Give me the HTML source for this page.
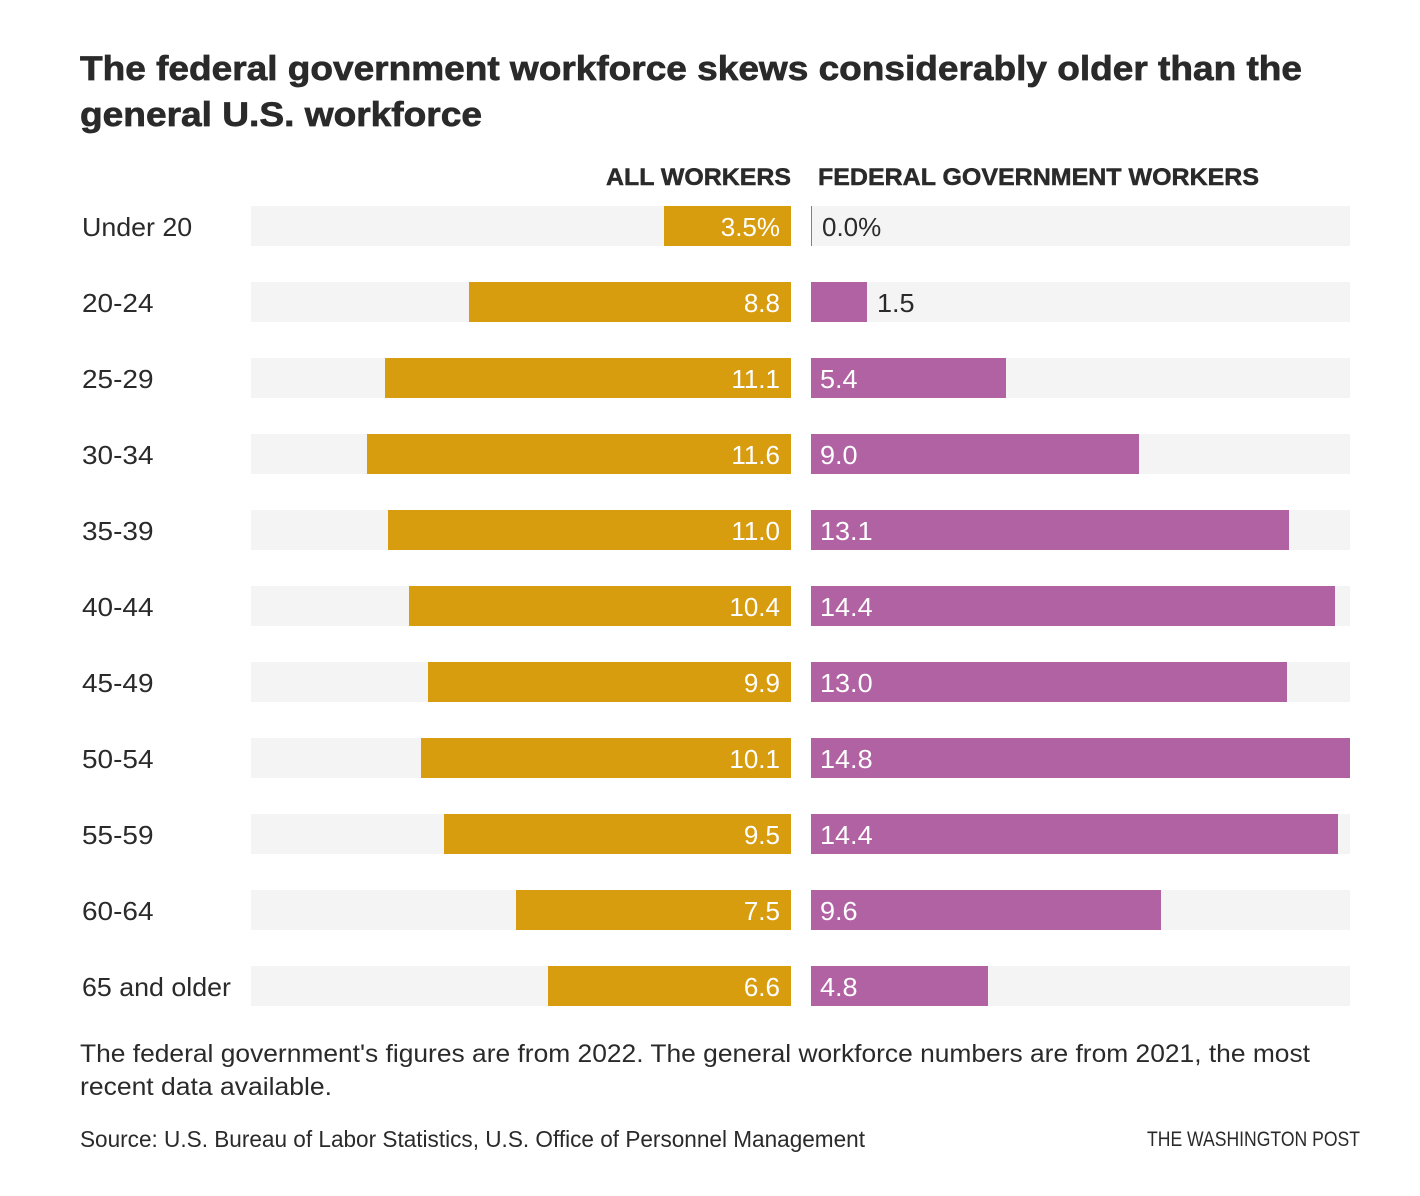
<!DOCTYPE html>
<html lang="en">
<head>
<meta charset="utf-8">
<title>The federal government workforce skews considerably older than the general U.S. workforce</title>
<style>
html,body{margin:0;padding:0;background:#fff;}
body{width:1420px;height:1196px;overflow:hidden;}
svg{display:block;font-family:"Liberation Sans",Arial,sans-serif;fill:#2a2a2a;}
.title{font-size:34.5px;font-weight:700;stroke:#2a2a2a;stroke-width:.7px;}
.head{font-size:24.5px;font-weight:700;stroke:#2a2a2a;stroke-width:.5px;}
.cat,.val{font-size:26px;}
.note{font-size:25px;}
.src{font-size:23px;}
.credit{font-size:21px;}
</style>
</head>
<body>
<svg id="chart" width="1420" height="1196" viewBox="0 0 1420 1196" xmlns="http://www.w3.org/2000/svg">
  <rect x="0" y="0" width="1420" height="1196" fill="#fff"/>
  <g>
    <text class="title" x="80" y="80" textLength="1222" lengthAdjust="spacingAndGlyphs">The federal government workforce skews considerably older than the</text>
    <text class="title" x="80" y="126" textLength="402" lengthAdjust="spacingAndGlyphs">general U.S. workforce</text>
  </g>
  <text class="head" x="606" y="185" textLength="185" lengthAdjust="spacingAndGlyphs">ALL WORKERS</text>
  <text class="head" x="818" y="185" textLength="441" lengthAdjust="spacingAndGlyphs">FEDERAL GOVERNMENT WORKERS</text>
  <g id="rows"></g>
  <g>
    <text class="note" x="80" y="1062" textLength="1230" lengthAdjust="spacingAndGlyphs">The federal government's figures are from 2022. The general workforce numbers are from 2021, the most</text>
    <text class="note" x="80" y="1095" textLength="252" lengthAdjust="spacingAndGlyphs">recent data available.</text>
  </g>
  <text class="src" x="80" y="1147" textLength="785" lengthAdjust="spacingAndGlyphs">Source: U.S. Bureau of Labor Statistics, U.S. Office of Personnel Management</text>
  <text class="credit" x="1147" y="1146" textLength="213" lengthAdjust="spacingAndGlyphs">THE WASHINGTON POST</text>
</svg>
<script>
const categories = ["Under 20","20-24","25-29","30-34","35-39","40-44","45-49","50-54","55-59","60-64","65 and older"];
const allWorkers = [3.49,8.84,11.15,11.64,11.07,10.49,9.97,10.16,9.53,7.55,6.67];
const federalWorkers = [0,1.54,5.35,9.01,13.12,14.39,13.07,14.8,14.47,9.61,4.86];
const allWorkerLabels = ["3.5%","8.8","11.1","11.6","11.0","10.4","9.9","10.1","9.5","7.5","6.6"];
const federalLabels = ["0.0%","1.5","5.4","9.0","13.1","14.4","13.0","14.8","14.4","9.6","4.8"];
const axisMax = 14.8;

const NS = "http://www.w3.org/2000/svg";
const rowsGroup = document.getElementById("rows");
const leftBase = 791, rightBase = 811, trackWidth = 539;
const firstRowY = 206, rowStep = 76, barHeight = 40;
const GOLD = "#d89c0f", PURPLE = "#b062a3", TRACK = "#f4f4f4", INK = "#2a2a2a";

function xScale(v) { return Math.round(v / axisMax * trackWidth); }
function yScale(i) { return firstRowY + i * rowStep; }

function makeRect(x, y, w, h, fill) {
  const r = document.createElementNS(NS, "rect");
  r.setAttribute("x", x);
  r.setAttribute("y", y);
  r.setAttribute("width", w);
  r.setAttribute("height", h);
  r.setAttribute("fill", fill);
  return r;
}
function makeText(cls, x, y, str, anchor, fill) {
  const t = document.createElementNS(NS, "text");
  t.setAttribute("class", cls);
  t.setAttribute("x", x);
  t.setAttribute("y", y);
  t.setAttribute("text-anchor", anchor);
  t.setAttribute("fill", fill);
  t.textContent = str;
  return t;
}
function stretch(t, k) {
  t.setAttribute("textLength", (t.getComputedTextLength() * k).toFixed(1));
  t.setAttribute("lengthAdjust", "spacingAndGlyphs");
}

categories.forEach(function (cat, i) {
  const y = yScale(i);
  const baseline = y + 30;

  const row = document.createElementNS(NS, "g");
  
  
  rowsGroup.appendChild(row);

  const label = makeText("cat", 82, baseline, cat, "start", INK);
  
  
  row.appendChild(label);
  stretch(label, /^[0-9-]+$/.test(cat) ? 1.075 : 1.03);

  const leftTrack = makeRect(leftBase - trackWidth - 1, y, trackWidth + 1, barHeight, TRACK);
  
  
  row.appendChild(leftTrack);

  const rightTrack = makeRect(rightBase, y, trackWidth, barHeight, TRACK);
  
  
  row.appendChild(rightTrack);

  const lw = xScale(allWorkers[i]);
  const leftBar = makeRect(leftBase - lw, y, lw, barHeight, GOLD);
  
  
  row.appendChild(leftBar);

  const rw = Math.max(xScale(federalWorkers[i]), 1);
  const rightBar = makeRect(rightBase, y, rw, barHeight, PURPLE);
  
  
  row.appendChild(rightBar);

  const leftVal = makeText("val", leftBase - 11, baseline, allWorkerLabels[i], "end", "#fff");
  
  
  row.appendChild(leftVal);

  const inside = rw > 100;
  const rightVal = makeText("val", inside ? rightBase + 9 : rightBase + rw + 10, baseline, federalLabels[i], "start", inside ? "#fff" : INK);
  
  
  row.appendChild(rightVal);
  if (federalLabels[i].indexOf("%") < 0) { stretch(rightVal, 1.04); }
});
</script>
</body>
</html>
